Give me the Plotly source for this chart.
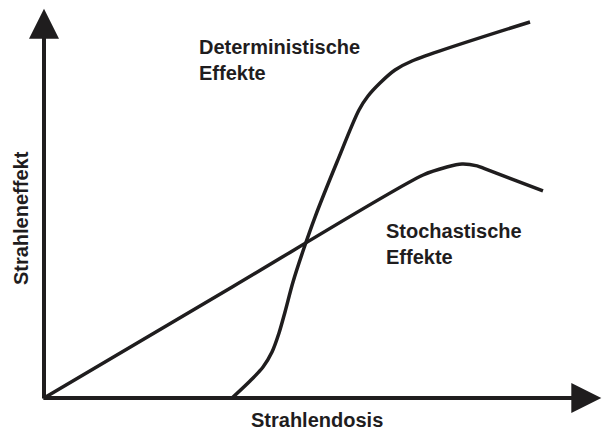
import plotly.graph_objects as go

# schematic dose-response curves (dose 0..100, effect 0..100)
det_dose = [34.81, 38.15, 40.56, 42.22, 43.52, 44.63, 46.11, 48.15, 50.19, 54.26,
            58.33, 60.0, 62.22, 65.0, 68.15, 90.0]
det_effect = [0.0, 4.5, 8.2, 12.17, 17.2, 22.75, 30.69, 39.68, 47.88, 62.43,
              76.19, 79.89, 83.33, 86.77, 89.15, 99.47]

sto_dose = [0.0, 35.0, 70.2, 74.6, 77.4, 80.2, 81.7, 92.4]
sto_effect = [0.0, 29.5, 59.0, 61.1, 61.9, 61.4, 60.6, 54.8]

x_label = "Strahlendosis"
y_label = "Strahleneffekt"
det_label = "Deterministische<br>Effekte"
sto_label = "Stochastische<br>Effekte"

ink = "#1f1d1e"
font = dict(family="Liberation Sans, Arial, sans-serif", size=20, color=ink)

fig = go.Figure()
fig.add_trace(go.Scatter(
    x=det_dose, y=det_effect, mode="lines",
    line=dict(color=ink, width=3.5, shape="spline", smoothing=0.9),
    hoverinfo="skip",
))
fig.add_trace(go.Scatter(
    x=sto_dose, y=sto_effect, mode="lines",
    line=dict(color=ink, width=3.5, shape="spline", smoothing=0.8),
    hoverinfo="skip",
))

# axes drawn as arrows
arrow = dict(text="", showarrow=True, arrowhead=2, arrowsize=1.5, arrowwidth=4,
             arrowcolor=ink, xref="x", yref="y", axref="x", ayref="y")
fig.add_annotation(x=0, y=103, ax=0, ay=-0.5, **arrow)
fig.add_annotation(x=103.2, y=0, ax=-0.4, ay=0, **arrow)

# labels
def label(x, y, text, **kw):
    fig.add_annotation(x=x, y=y, text="<b>%s</b>" % text, showarrow=False,
                       yanchor="middle", font=font, **kw)

label(28.3, 89.4, det_label, xanchor="left", align="left")
label(63.0, 40.7, sto_label, xanchor="left", align="left")
label(50.6, -5.9, x_label)
label(-4.26, 47.6, y_label, textangle=-90)

# whole page is the plot area: 5.4 px per dose unit, 3.78 px per effect unit
fig.update_xaxes(range=[-8.148, 103.33], visible=False, fixedrange=True)
fig.update_yaxes(range=[-8.466, 105.29], visible=False, fixedrange=True)
fig.update_layout(
    width=602, height=430,
    margin=dict(l=0, r=0, t=0, b=0),
    plot_bgcolor="white", paper_bgcolor="white",
    showlegend=False,
)

fig.write_html("out.html", config={"displayModeBar": False},
               post_script="document.body.style.margin='0px';")
